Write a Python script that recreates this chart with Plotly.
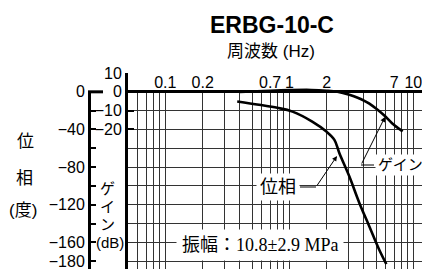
import math
import plotly.graph_objects as go

# ---------------- data ----------------
gain_freq = [0.40, 0.55, 0.70, 1.0, 1.5, 2.0, 2.44, 3.05, 3.6, 4.03, 4.42, 5.0, 5.84, 6.77, 8.2]
gain_db = [0.0, 0.3, 0.6, 0.9, 1.0, 0.6, 0.0, -1.6, -3.3, -4.8, -6.3, -8.9, -12.6, -16.8, -21.0]

phase_freq = [0.38, 0.57, 0.80, 1.06, 1.53, 1.99, 2.31, 2.53, 3.05, 3.67, 4.42, 5.32, 6.06]
phase_deg = [-10.3, -13.8, -17.0, -21.0, -31.6, -42.2, -51.0, -65.0, -90.0, -118.0, -143.0, -168.0, -183.0]

grid_freqs = [0.05, 0.06, 0.07, 0.08, 0.09, 0.1, 0.2, 0.3, 0.4, 0.5, 0.6, 0.7, 0.8, 0.9,
              1, 2, 3, 4, 5, 6, 7, 8, 9, 10]
freq_labels = {0.1: "0.1", 0.2: "0.2", 0.7: "0.7", 1: "1", 2: "2", 7: "7", 10: "10"}

gain_ticks = [10, 0, -10, -20]
gain_ticktext = ["10", "0", "−10", "−20"]
phase_ticks = [0, -20, -40, -60, -80, -100, -120, -140, -160, -180]
phase_ticktext = ["0", "", "−40", "", "−80", "", "−120", "", "−160", "−180"]

title = "ERBG-10-C"
x_title = "周波数 (Hz)"
amp_label = "振幅：10.8±2.9 MPa"

# ---------------- layout geometry ----------------
W, H = 422, 269
TOP = 73
PH = H - TOP
X_LEFT_PX = 128
DECADE_PX = 124
x_lo = math.log10(0.05)
x_hi = x_lo + (W - X_LEFT_PX) / DECADE_PX
gain_range = [-94.1, 10]
zero_paper = (0 - gain_range[0]) / (gain_range[1] - gain_range[0])
phase_range = [2 * gain_range[0], 0]


def px(x):
    return x / W


def py(y):
    return (H - y) / PH


SANS = "Liberation Sans, Arial, Noto Sans CJK JP"
SERIF = "Liberation Serif, Times New Roman, Noto Sans CJK JP"
GRID = "#333333"

fig = go.Figure()
# phase on the grid subplot (x / y)
fig.add_trace(go.Scatter(x=phase_freq, y=phase_deg, mode="lines",
                         line=dict(color="black", width=2.6, shape="spline"),
                         xaxis="x", yaxis="y", showlegend=False, hoverinfo="skip"))
# gain on its own full-height subplot (x2 / y2)
fig.add_trace(go.Scatter(x=gain_freq, y=gain_db, mode="lines",
                         line=dict(color="black", width=2.6, shape="spline"),
                         xaxis="x2", yaxis="y2", showlegend=False, hoverinfo="skip"))

fig.update_layout(
    width=W, height=H,
    margin=dict(l=0, r=0, t=TOP, b=0, pad=0),
    paper_bgcolor="white", plot_bgcolor="rgba(0,0,0,0)",
    font=dict(family=SANS, color="black", size=16),
    title=dict(text=title, x=272 / W, xanchor="center", y=1 - 24.5 / H, yanchor="middle",
               xref="container", yref="container",
               font=dict(family=SANS, size=23, color="black", weight="bold")),
    xaxis=dict(type="log", domain=[X_LEFT_PX / W, 1], range=[x_lo, x_hi], side="top", anchor="y",
               tickmode="array", tickvals=grid_freqs,
               ticktext=[freq_labels.get(f, "") for f in grid_freqs],
               ticks="", showgrid=True, gridcolor=GRID, gridwidth=1,
               showline=False, zeroline=False, tickfont=dict(size=16), automargin=False,
               ticklabeloverflow="allow"),
    yaxis=dict(domain=[0, zero_paper], range=phase_range, anchor="free", position=89 / W, side="left",
               tickmode="array", tickvals=phase_ticks, ticktext=phase_ticktext,
               ticks="inside", ticklen=5, tickwidth=1.5, tickcolor="black",
               showline=True, linewidth=3, linecolor="black",
               showgrid=True, gridcolor=GRID, gridwidth=1, zeroline=False,
               tickfont=dict(size=16), automargin=False, ticklabeloverflow="allow"),
    xaxis2=dict(type="log", domain=[X_LEFT_PX / W, 1], range=[x_lo, x_hi], anchor="y2",
                visible=False, showgrid=False),
    yaxis2=dict(domain=[0, 1], range=gain_range, anchor="x2", side="left",
                tickmode="array", tickvals=gain_ticks, ticktext=gain_ticktext,
                ticks="inside", ticklen=6, tickwidth=2, tickcolor="black",
                showline=True, linewidth=3, linecolor="black", showgrid=False,
                zeroline=True, zerolinewidth=3, zerolinecolor="black",
                tickfont=dict(size=16), automargin=False, ticklabeloverflow="allow"),
)

shapes = [
    dict(type="line", xref="paper", yref="paper", x0=px(88), x1=px(103), y0=zero_paper, y1=zero_paper,
         line=dict(color="black", width=3), layer="above"),
    dict(type="line", xref="paper", yref="paper", x0=px(300), x1=px(316), y0=py(187), y1=py(187),
         line=dict(color="black", width=1), layer="above"),
    dict(type="line", xref="paper", yref="paper", x0=px(361), x1=px(374), y0=py(165), y1=py(165),
         line=dict(color="black", width=1), layer="above"),
]
fig.update_layout(shapes=shapes)

ann = []
ann.append(dict(text=x_title, x=px(271), y=py(51), xref="paper", yref="paper", showarrow=False,
                font=dict(family=SANS, size=17), xanchor="center", yanchor="middle"))
for t, (xx, yy) in zip(["位", "相", "(度)"], [(25, 141), (24, 178), (23, 210)]):
    ann.append(dict(text=t, x=px(xx), y=py(yy), xref="paper", yref="paper", showarrow=False,
                    font=dict(family=SANS, size=17), xanchor="center", yanchor="middle"))
for t, (xx, yy) in zip(["ゲ", "イ", "ン", "(dB)"], [(108, 188), (108, 206), (108, 224), (110, 242)]):
    ann.append(dict(text=t, x=px(xx), y=py(yy), xref="paper", yref="paper", showarrow=False,
                    font=dict(family=SANS, size=15), xanchor="center", yanchor="middle"))
ann.append(dict(text=amp_label, x=px(260), y=py(245), xref="paper", yref="paper", showarrow=False,
                font=dict(family=SERIF, size=18), bgcolor="white", borderpad=5,
                xanchor="center", yanchor="middle"))
ann.append(dict(text="位相", x=px(278), y=py(187), xref="paper", yref="paper", showarrow=False,
                font=dict(family=SERIF, size=18), bgcolor="white", borderpad=3,
                xanchor="center", yanchor="middle"))
ann.append(dict(text="ゲイン", x=px(375), y=py(165), xref="paper", yref="paper", showarrow=False,
                font=dict(family=SERIF, size=15), bgcolor="white", borderpad=2,
                xanchor="left", yanchor="middle"))
ann.append(dict(text="", x=px(337), y=py(156), xref="paper", yref="paper", showarrow=True,
                ax=316 - 337, ay=187 - 156, arrowhead=2, arrowsize=1, arrowwidth=1, arrowcolor="black",
                standoff=0, startstandoff=0))
ann.append(dict(text="", x=px(385), y=py(117), xref="paper", yref="paper", showarrow=True,
                ax=361 - 385, ay=165 - 117, arrowhead=2, arrowsize=1, arrowwidth=1, arrowcolor="black",
                standoff=0, startstandoff=0))
fig.update_layout(annotations=ann)

fig.write_html("out.html", config={"displayModeBar": False},
               post_script="document.body.style.margin='0';document.body.style.overflow='hidden';")
